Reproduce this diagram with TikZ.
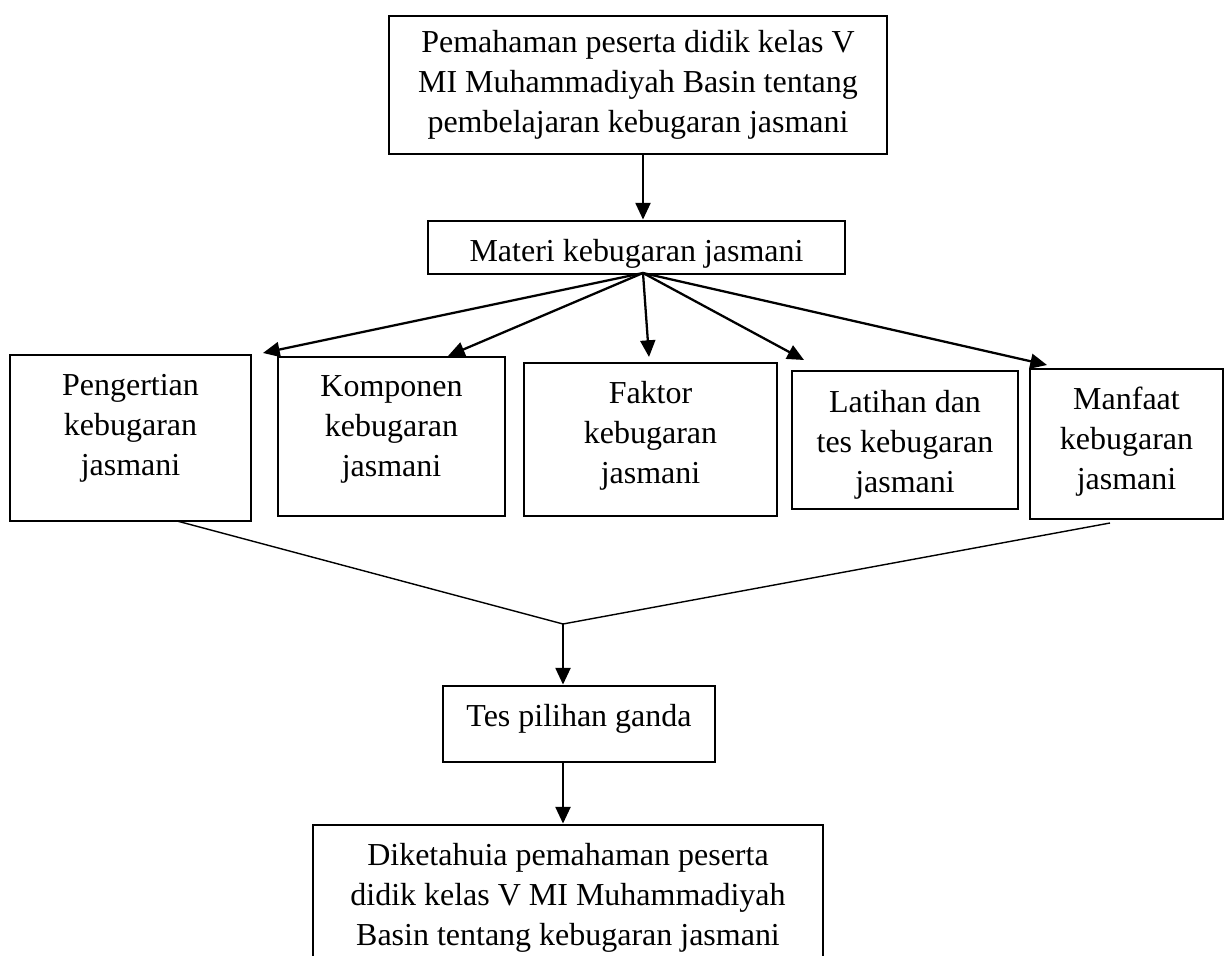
\documentclass[tikz,border=0pt]{standalone}
\usepackage{fontspec}
\setmainfont{Liberation Serif}
\usetikzlibrary{arrows.meta,positioning}

\begin{document}
\begin{tikzpicture}[
	font=\fontsize{18.2}{22.8}\selectfont,
	panel/.style={draw=black, line width=1.6pt, align=center, inner sep=0pt},
	itembox/.style={draw=black, line width=1.6pt, inner sep=0pt},
	itemtext/.style={align=center, inner sep=0pt},
	link/.style={-{Triangle[length=9.5pt, width=8.5pt]}, draw=black, line width=1.3pt},
	merge/.style={draw=black, line width=0.8pt}
]
\clip (0,0) rectangle (24.54,-19.12);

\node[panel, minimum width=9.96cm, minimum height=2.76cm] (top) at (12.76,-1.70) {Pemahaman peserta didik kelas V\\MI Muhammadiyah Basin tentang\\pembelajaran kebugaran jasmani};
\node[panel, minimum width=8.34cm, minimum height=1.06cm, text height=0.58cm, text depth=0cm] (materi) at (12.73,-4.95) {Materi kebugaran jasmani};

% five sub-topics
\node[itembox, minimum width=4.82cm, minimum height=3.32cm] (pengertian) at (2.61,-8.76) {};
\node[itembox, minimum width=4.54cm, minimum height=3.18cm] (komponen) at (7.83,-8.73) {};
\node[itembox, minimum width=5.06cm, minimum height=3.06cm] (faktor) at (13.01,-8.79) {};
\node[itembox, minimum width=4.52cm, minimum height=2.76cm] (latihan) at (18.10,-8.80) {};
\node[itembox, minimum width=3.86cm, minimum height=3.00cm] (manfaat) at (22.53,-8.88) {};

\node[itemtext, below=0.40cm of pengertian.north] (pengertiantext) {Pengertian\\kebugaran\\jasmani};
\node[itemtext, below=0.39cm of komponen.north] (komponentext) {Komponen\\kebugaran\\jasmani};
\node[itemtext, below=0.38cm of faktor.north] (faktortext) {Faktor\\kebugaran\\jasmani};
\node[itemtext, below=0.40cm of latihan.north] (latihantext) {Latihan dan\\tes kebugaran\\jasmani};
\node[itemtext, below=0.38cm of manfaat.north] (manfaattext) {Manfaat\\kebugaran\\jasmani};

\node[panel, minimum width=5.44cm, minimum height=1.52cm, text height=0.34cm, text depth=0.26cm] (tes) at (11.58,-14.48) {Tes pilihan ganda};
\node[itembox, minimum width=10.20cm, minimum height=3.20cm] (hasil) at (11.36,-18.10) {};
\node[itemtext, below=0.38cm of hasil.north] (hasiltext) {Diketahuia pemahaman peserta\\didik kelas V MI Muhammadiyah\\Basin tentang kebugaran jasmani};

\coordinate (fan) at (12.86,-5.46);
\coordinate (tipA) at (5.26,-7.06);
\coordinate (tipB) at (8.96,-7.12);
\coordinate (tipC) at (12.98,-7.14);
\coordinate (tipD) at (16.08,-7.20);
\coordinate (tipE) at (20.94,-7.30);
\coordinate (joinL) at (3.54,-10.42);
\coordinate (joinR) at (22.20,-10.46);
\coordinate (join) at (11.26,-12.48);

\draw[link] (top.south -| fan) -- (materi.north -| fan);
\draw[link] (fan) -- (tipA);
\draw[link] (fan) -- (tipB);
\draw[link] (fan) -- (tipC);
\draw[link] (fan) -- (tipD);
\draw[link] (fan) -- (tipE);
\draw[merge] (joinL) -- (join) -- (joinR);
\draw[link] (join) -- (tes.north -| join);
\draw[link] (tes.south -| join) -- (hasil.north -| join);
\end{tikzpicture}
\end{document}
